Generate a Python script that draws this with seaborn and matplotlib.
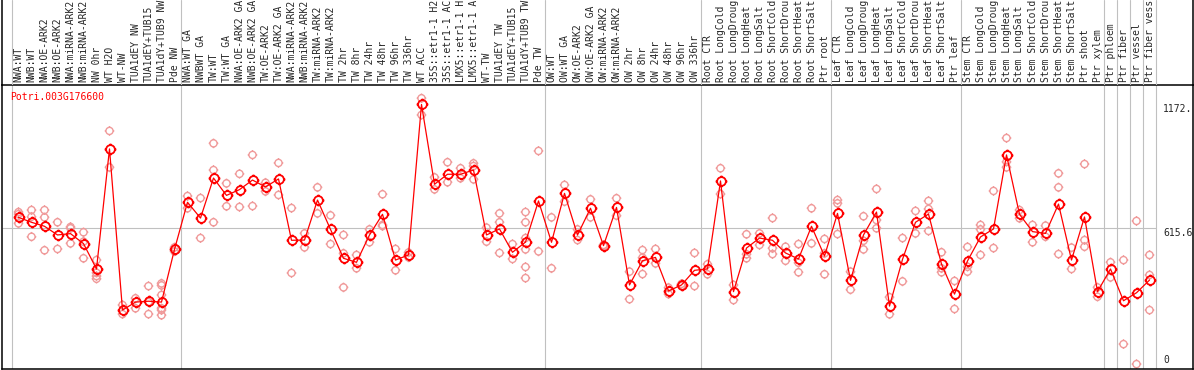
import numpy as np
import pandas as pd
import matplotlib
matplotlib.use("Agg")
import matplotlib.pyplot as plt
from matplotlib.path import Path
import seaborn as sns

sns.set_style("white")
plt.rcParams['font.family'] = ['DejaVu Sans Mono']

gene = 'Potri.003G176600'

samples = [
    'NWA:WT', 'NWB:WT', 'NWA:OE-ARK2', 'NWB:OE-ARK2', 'NWA:miRNA-ARK2', 'NWB:miRNA-ARK2',
    'NW 0hr', 'WT H2O', 'WT-NW', 'TUA1dEY NW', 'TUA1dEY+TUB15', 'TUA1dY+TUB9 NW', 'Pde NW',
    'NWA:WT GA', 'NWBWT GA', 'TW:WT', 'TW:WT GA', 'NWA:OE-ARK2 GA', 'NWB:OE-ARK2 GA',
    'TW:OE-ARK2', 'TW:OE-ARK2 GA', 'NWA:miRNA-ARK2', 'NWB:miRNA-ARK2', 'TW:miRNA-ARK2',
    'TW:miRNA-ARK2', 'TW 2hr', 'TW 8hr', 'TW 24hr', 'TW 48hr', 'TW 96hr', 'TW 336hr',
    'WT ACC', '35S::etr1-1 H2', '35S::etr1-1 AC', 'LMX5::etr1-1 H', 'LMX5::etr1-1 A',
    'WT-TW', 'TUA1dEY TW', 'TUA1dEY+TUB15', 'TUA1dY+TUB9 TW', 'Pde TW',
    'OW:WT', 'OW:WT GA', 'OW:OE-ARK2', 'OW:OE-ARK2 GA', 'OW:miRNA-ARK2', 'OW:miRNA-ARK2',
    'OW 2hr', 'OW 8hr', 'OW 24hr', 'OW 48hr', 'OW 96hr', 'OW 336hr',
    'Root CTR', 'Root LongCold', 'Root LongDroug', 'Root LongHeat', 'Root LongSalt',
    'Root ShortCold', 'Root ShortDrou', 'Root ShortHeat', 'Root ShortSalt', 'Ptr root',
    'Leaf CTR', 'Leaf LongCold', 'Leaf LongDroug', 'Leaf LongHeat', 'Leaf LongSalt',
    'Leaf ShortCold', 'Leaf ShortDrou', 'Leaf ShortHeat', 'Leaf ShortSalt', 'Ptr leaf',
    'Stem CTR', 'Stem LongCold', 'Stem LongDroug', 'Stem LongHeat', 'Stem LongSalt',
    'Stem ShortCold', 'Stem ShortDrou', 'Stem ShortHeat', 'Stem ShortSalt', 'Ptr shoot',
    'Ptr xylem', 'Ptr phloem', 'Ptr fiber', 'Ptr vessel', 'Ptr fiber vess',
]

group_sizes = [13, 28, 12, 10, 10, 11, 1, 1, 1, 1]

means = [
    664, 642, 624, 585, 591, 546, 432, 972, 247, 283, 287, 283, 520,
    732, 661, 841, 763, 789, 832, 801, 837, 561, 562, 742, 610, 480, 462, 585, 678,
    472, 495, 1172, 813, 858, 858, 877, 585, 612, 507, 553, 738,
    552, 772, 585, 705, 537, 709, 360, 469, 484, 333, 360, 426,
    432, 828, 330, 526, 571, 561, 504, 477, 624, 490,
    682, 381, 585, 688, 265, 475, 642, 679, 454, 319,
    468, 576, 612, 945, 678, 600, 592, 724, 472, 666, 330,
    432, 289, 325, 382,
]

replicates = [
    [688, 679, 637], [697, 667, 577], [697, 664, 516], [642, 522], [621, 615, 547],
    [597, 555, 480], [472, 415, 400, 388], [1053, 889], [270, 229], [300, 255],
    [355, 283, 229], [367, 358, 315, 255, 247, 224], [529, 511],
    [760, 705], [751, 571], [997, 877, 642], [817, 714], [860, 711], [945, 715],
    [820, 781], [909, 765], [706, 414], [592, 529], [799, 682], [673, 544],
    [585, 502, 349], [495, 435], [610, 552], [768, 630, 625], [522, 426], [506, 484],
    [1200, 1125], [844, 790], [912, 822], [885, 840], [907, 895, 835], [618, 555],
    [682, 642, 504], [544, 477], [688, 642, 571, 520, 441, 391], [963, 511],
    [664, 435], [810, 735], [610, 562], [745, 664], [540, 534], [750, 672],
    [420, 296], [517, 483, 409], [522, 457], [348, 319], [365, 355], [504, 355],
    [453, 408], [885, 769], [360, 292], [588, 498, 480], [592, 540], [661, 525, 499],
    [532, 469], [544, 460, 417], [705, 547], [567, 502, 408],
    [742, 727, 589], [420, 339], [669, 559, 520], [792, 652, 615], [305, 228],
    [571, 376], [693, 592], [738, 702, 603], [507, 435, 417], [378, 252],
    [531, 442, 420], [630, 610, 495], [783, 526], [1021, 914, 889], [697, 660],
    [630, 552], [627, 577], [862, 799, 499], [528, 432], [904, 562, 532], [349, 307],
    [462, 394], [472, 94], [648, 4], [495, 405, 247],
]

ytick_vals = [0, 615.6, 1172.4]
ytick_labels = ['0', '615.6', '1172.']

mean_df = pd.DataFrame({'pos': np.arange(len(samples)), 'value': means})
rep_df = pd.DataFrame(
    [(i, v) for i, vals in enumerate(replicates) for v in vals],
    columns=['pos', 'value'],
)

# circle with four little ticks, like the original marker
tick_path = Path(
    [(0, 1), (0, 1.35), (0, -1), (0, -1.35), (1, 0), (1.35, 0), (-1, 0), (-1.35, 0)],
    [Path.MOVETO, Path.LINETO] * 4,
)
ring = Path.make_compound_path(Path.unit_circle(), tick_path)

W, H = 1194, 370
fig = plt.figure(figsize=(W / 100, H / 100), dpi=100)
px_l, px_r, px_t, px_b = 1.5, 1193, 85, 369
ax = fig.add_axes([px_l / W, 1 - px_b / H, (px_r - px_l) / W, (px_b - px_t) / H])
lab_ax = fig.add_axes([px_l / W, 1 - px_t / H, (px_r - px_l) / W, px_t / H])

x0_px, step_px = 18.5, 13.0
xmin = (px_l - x0_px) / step_px
xmax = (px_r - x0_px) / step_px
zero_px, scale = 365.0, 0.2223
ax.set_xlim(xmin, xmax)
ax.set_ylim(-(px_b - zero_px) / scale, (zero_px - px_t) / scale)
lab_ax.set_xlim(xmin, xmax)
lab_ax.set_ylim(px_t, 0)

grid_c = '#c0c0c0'
seps = [-0.5] + list(np.cumsum(group_sizes) - 0.5)
for s in seps:
    ax.axvline(s, color=grid_c, lw=0.8, zorder=0)
    lab_ax.axvline(s, color=grid_c, lw=0.8, zorder=0)
ax.hlines(ytick_vals[1], xmin, seps[-1], color=grid_c, lw=0.8, zorder=0)

sns.scatterplot(
    data=rep_df, x='pos', y='value', ax=ax,
    marker=ring, s=48, facecolor='none', edgecolor='#f09a9a',
    linewidth=1.0, zorder=2, legend=False,
)
sns.lineplot(
    data=mean_df, x='pos', y='value', ax=ax,
    color='#ff0000', lw=0.9, marker=ring, markersize=8.5,
    markerfacecolor='none', markeredgecolor='#ff0000', markeredgewidth=1.3,
    estimator=None, sort=False, zorder=3, legend=False,
)

for i, lab in enumerate(samples):
    lab_ax.text(i, 82, lab, rotation=90, ha='center', va='bottom', fontsize=7)

ytr = ax.get_yaxis_transform()
ax.text(0.9748, ytick_vals[2], ytick_labels[2], transform=ytr, va='top', ha='left', fontsize=7)
ax.text(0.9748, ytick_vals[1], ytick_labels[1], transform=ytr, va='top', ha='left', fontsize=7)
ax.text(0.9748, ytick_vals[0], ytick_labels[0], transform=ytr, va='bottom', ha='left', fontsize=7)

fig.text(10 / W, 1 - 97 / H, gene, color='#ff0000', fontsize=7, va='center', ha='left')

for a in (ax, lab_ax):
    a.set_xticks([])
    a.set_yticks([])
    a.set_xlabel('')
    a.set_ylabel('')
    for sp in a.spines.values():
        sp.set_color('black')
        sp.set_linewidth(1.1)
lab_ax.spines['top'].set_visible(False)
lab_ax.spines['bottom'].set_visible(False)
lab_ax.patch.set_alpha(0)

fig.savefig('out.png', dpi=100)
